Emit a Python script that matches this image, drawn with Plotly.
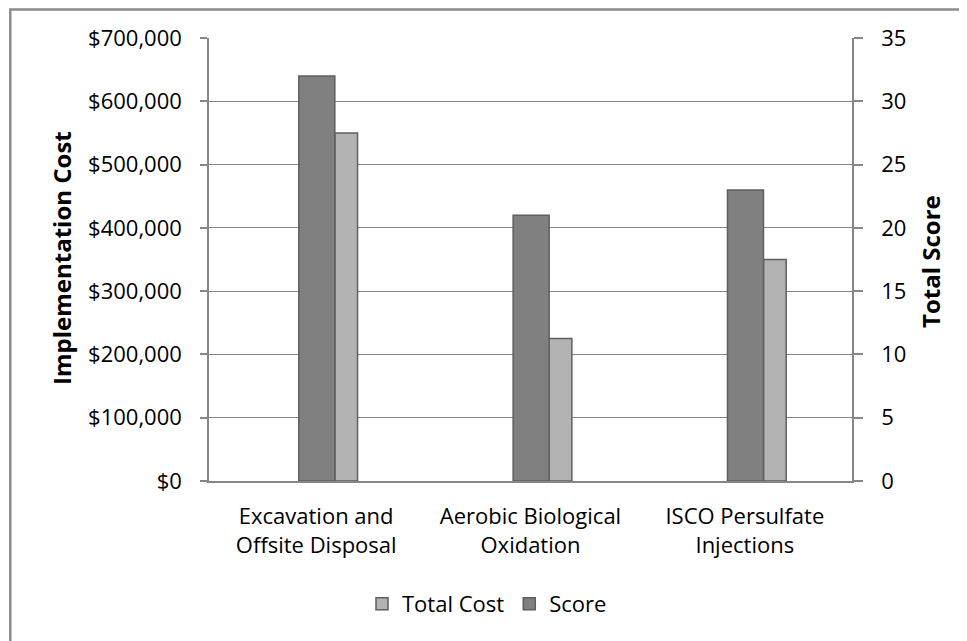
import plotly.graph_objects as go

categories = ["Excavation and<br>Offsite Disposal", "Aerobic Biological<br>Oxidation", "ISCO Persulfate<br>Injections"]
total_cost = [550000, 225000, 350000]
score = [32, 21, 23]
cost_ticks = [0, 100000, 200000, 300000, 400000, 500000, 600000, 700000]
score_ticks = [0, 5, 10, 15, 20, 25, 30, 35]

cost_labels = [f"${v:,}" for v in cost_ticks]
xpos = list(range(len(categories)))
FONT = "Open Sans"
FS = 22
AX = "#868686"

# page is offset by 8px body margin; plot area on page spans x 209..852, y 38..481
PL, PT, PW, PH = 201, 30, 643, 443

def px(x):
    return (x - 209) / PW

def py(y):
    return (481 - y) / PH

fig = go.Figure()
fig.add_trace(go.Bar(
    x=xpos, y=total_cost, name="Total Cost", yaxis="y",
    offset=0.087, width=0.106,
    marker=dict(color="#b3b3b3", line=dict(color="#5f5f5f", width=1.5)),
))
fig.add_trace(go.Bar(
    x=xpos, y=score, name="Score", yaxis="y2",
    offset=-0.081, width=0.168,
    marker=dict(color="#808080", line=dict(color="#5f5f5f", width=1.5)),
))

fig.update_layout(
    width=967, height=641,
    margin=dict(l=PL, r=967 - PL - PW, t=PT, b=641 - PT - PH),
    paper_bgcolor="white", plot_bgcolor="white",
    barmode="overlay",
    font=dict(family=FONT, size=FS, color="black"),
    xaxis=dict(
        range=[-0.5, 2.5], tickvals=xpos, ticktext=categories,
        showline=True, linecolor=AX, linewidth=1.5, showgrid=False,
        ticks="", zeroline=False, tickfont=dict(size=FS),
        ticklabelstandoff=15,
    ),
    yaxis=dict(
        range=[0, 700000], tickvals=cost_ticks, ticktext=cost_labels,
        showline=True, linecolor=AX, linewidth=1.5,
        showgrid=True, gridcolor=AX, gridwidth=1,
        ticks="outside", ticklen=7, tickcolor=AX, tickwidth=1.5,
        ticklabelstandoff=14,
        zeroline=False,
    ),
    yaxis2=dict(
        range=[0, 35], tickvals=score_ticks, overlaying="y", side="right",
        showline=True, linecolor=AX, linewidth=1.5, showgrid=False,
        ticks="outside", ticklen=9, tickcolor=AX, tickwidth=1.5,
        ticklabelstandoff=14,
        zeroline=False,
    ),
    legend=dict(
        orientation="h", x=px(487), xanchor="center", y=py(604), yanchor="middle",
        font=dict(size=FS), traceorder="normal", itemwidth=30,
    ),
    annotations=[
        dict(text="<b>Implementation Cost</b>", xref="paper", yref="paper",
             x=px(61), y=py(258), xanchor="center", yanchor="middle",
             textangle=-90, showarrow=False, font=dict(size=24)),
        dict(text="<b>Total Score</b>", xref="paper", yref="paper",
             x=px(930), y=py(262), xanchor="center", yanchor="middle",
             textangle=-90, showarrow=False, font=dict(size=24)),
    ],
    shapes=[dict(
        type="rect", xref="paper", yref="paper",
        x0=px(10.3), x1=px(990),
        y0=py(660), y1=py(9.5),
        line=dict(color="#8c8c8c", width=2.5), fillcolor="rgba(0,0,0,0)", layer="below",
    )],
)

fig.write_html("out.html")
